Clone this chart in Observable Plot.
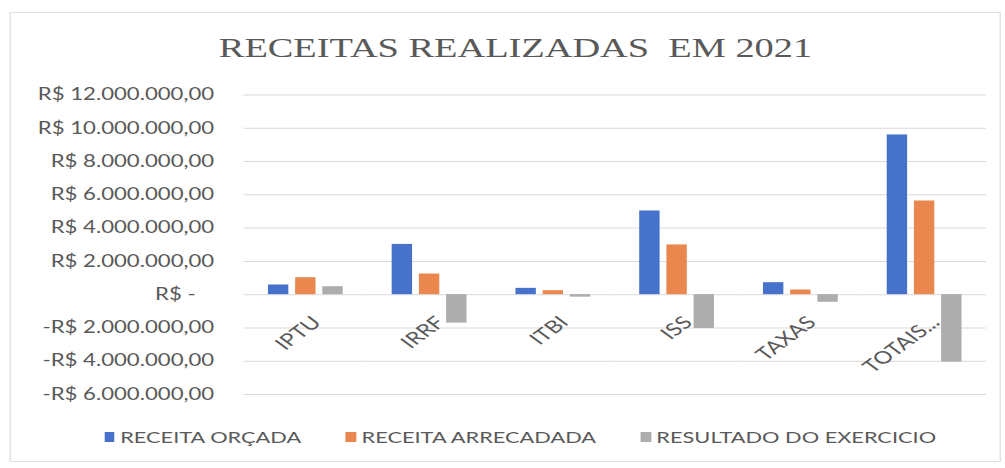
<!DOCTYPE html>
<html><head><meta charset="utf-8">
<script src="https://cdn.jsdelivr.net/npm/d3@7"></script>
<script src="https://cdn.jsdelivr.net/npm/@observablehq/plot@0.6"></script>
<style>
body{margin:0;background:#fff;overflow:hidden;width:1005px;height:468px;}
#wrap{position:absolute;left:0;top:0;width:739px;height:468px;transform:scaleX(1.36);transform-origin:0 0;}
#frame{position:absolute;left:6.6px;top:12px;width:729px;height:450px;border:1px solid #e0e0e0;box-sizing:border-box;}
#title{position:absolute;left:9.5px;width:739px;top:34px;text-align:center;font-family:"Liberation Serif",serif;font-size:28.2px;line-height:1;color:#595959;white-space:pre;}
#chart{position:absolute;left:0;top:80px;}
#legend{position:absolute;top:429px;left:77px;height:16px;display:flex;align-items:center;font-family:Lato,sans-serif;font-size:16px;line-height:1;color:#595959;white-space:nowrap;}
.item{display:flex;align-items:center;margin-right:33px;}
.sw{width:7.4px;height:10px;margin-right:4px;}
</style>
</head><body>
<div id="wrap">
  <div id="frame"></div>
  <div id="title">RECEITAS REALIZADAS  EM 2021</div>
  <div id="chart"></div>
  <div id="legend"></div>
</div>
<script>
const categories = ["IPTU", "IRRF", "ITBI", "ISS", "TAXAS", "TOTAIS..."];
const series = ["RECEITA ORÇADA", "RECEITA ARRECADADA", "RESULTADO DO EXERCICIO"];
const receitaOrcada = [580000, 3020000, 380000, 5030000, 720000, 9600000];
const receitaArrecadada = [1020000, 1240000, 240000, 2990000, 280000, 5630000];
const resultadoExercicio = [480000, -1710000, -150000, -2030000, -460000, -4050000];
const colors = ["#4672CC", "#E9874F", "#ADADAD"];
const yTicks = [-6000000, -4000000, -2000000, 0, 2000000, 4000000, 6000000, 8000000, 10000000, 12000000];

const seriesValues = [receitaOrcada, receitaArrecadada, resultadoExercicio];
const data = categories.flatMap((c, i) => series.map((s, j) => ({cat: c, s, v: seriesValues[j][i]})));

const loc = d3.formatLocale({decimal: ",", thousands: ".", grouping: [3], currency: ["R$ ", ""]});
const f = loc.format(",.2f");
const fmtY = v => v === 0 ? "R$ -\u2007\u00a0" : (v < 0 ? "-R$ " + f(-v) : "R$ " + f(v));

const chart = Plot.plot({
  width: 739, height: 330,
  marginLeft: 178, marginRight: 13, marginTop: 14.5, marginBottom: 16,
  style: {fontFamily: "Lato, sans-serif", fontSize: "16.3px", color: "#595959", background: "transparent", overflow: "visible"},
  fx: {domain: categories, padding: 0, axis: null, label: null},
  x: {domain: series, paddingInner: 0.25, paddingOuter: 0.843, axis: null},
  y: {domain: [-6000000, 12000000], ticks: yTicks, tickFormat: fmtY, tickSize: 0, tickPadding: 22, label: null},
  color: {domain: series, range: colors},
  marks: [
    Plot.gridY(yTicks, {stroke: "#d9d9d9", strokeOpacity: 1}),
    Plot.barY(data, {fx: "cat", x: "s", y: "v", fill: "s"}),
    Plot.text(categories, {fx: d => d, y: () => 0, text: d => d, rotate: -45, textAnchor: "end", dx: 8, dy: 25, fill: "#595959", fontSize: 17.5})
  ]
});
document.getElementById("chart").appendChild(chart);

const legend = document.getElementById("legend");
series.forEach((s, i) => {
  const it = document.createElement("div");
  it.className = "item";
  const sw = document.createElement("div");
  sw.className = "sw";
  sw.style.background = colors[i];
  const t = document.createElement("span");
  t.textContent = s;
  it.appendChild(sw); it.appendChild(t);
  legend.appendChild(it);
});
</script>
</body></html>
